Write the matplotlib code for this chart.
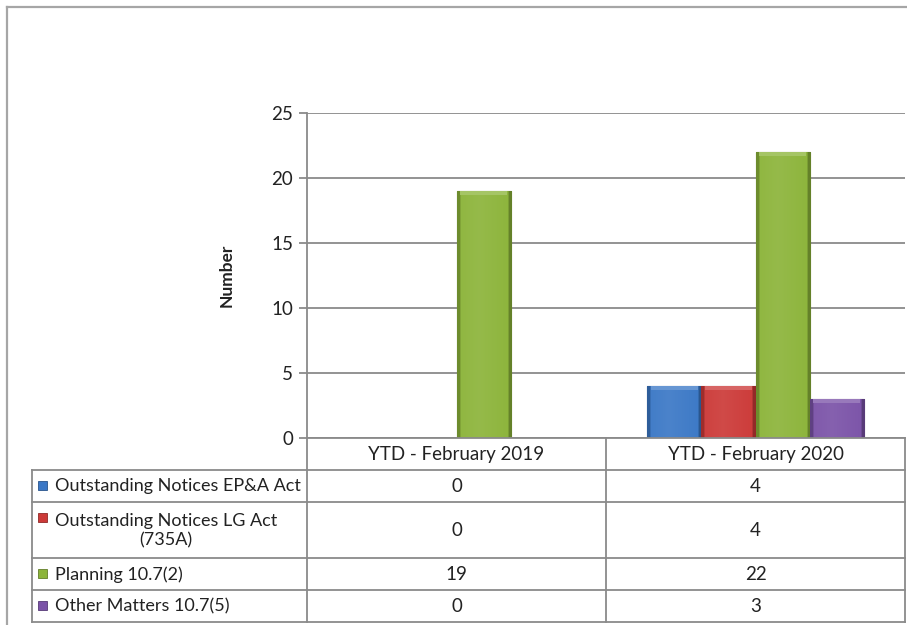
import matplotlib
matplotlib.use("Agg")
import matplotlib.pyplot as plt
import numpy as np
from matplotlib.patches import Rectangle
from matplotlib.colors import to_rgb

# data
periods = ["YTD - February 2019", "YTD - February 2020"]
series = ["Outstanding Notices EP&A Act",
          "Outstanding Notices LG Act\n(735A)",
          "Planning 10.7(2)",
          "Other Matters 10.7(5)"]
values = [[0, 4],
          [0, 4],
          [19, 22],
          [0, 3]]
colors = ["#3b78c6", "#cc3a38", "#8cb43a", "#7b53a8"]
yticks = [0, 5, 10, 15, 20, 25]

plt.rcParams['font.family'] = ['Lato', 'DejaVu Sans']

W, H = 907, 625
grey = "#8a8a8a"
txt = "#222222"
fs = 13


def px(l, t, r, b):
    return [l / W, 1 - b / H, (r - l) / W, (b - t) / H]


def shade(c, f):
    r, g, b = to_rgb(c)
    if f >= 0:
        return (r + (1 - r) * f, g + (1 - g) * f, b + (1 - b) * f)
    return (r * (1 + f), g * (1 + f), b * (1 + f))


def bevel(ax, bar, c):
    # soft bevel: darker side edges, slightly lighter middle, light top band
    x0, y0 = bar.get_x(), bar.get_y()
    w, h = bar.get_width(), bar.get_height()
    if h <= 0:
        return
    t = np.linspace(0, 1, 80)
    prof = 0.08 - 0.12 * np.abs(t - 0.4)
    prof[t < 0.06] = -0.22
    prof[t > 0.94] = -0.28
    img = np.array([shade(c, p) for p in prof])[None, :, :]
    im = ax.imshow(img, extent=(x0, x0 + w, y0, y0 + h), aspect='auto',
                   zorder=3, interpolation='bilinear')
    im.set_clip_path(bar)
    band = min(0.3, h * 0.2)
    ax.add_patch(Rectangle((x0 + w * 0.06, y0 + h - band), w * 0.88, band,
                           color=shade(c, 0.22), zorder=4, lw=0))


fig = plt.figure(figsize=(W / 100, H / 100), dpi=100)

# outer frame (left and top edges)
fig.add_artist(plt.Line2D([7 / W, 7 / W], [0, 1 - 7 / H], color="#a6a6a6", lw=1.6))
fig.add_artist(plt.Line2D([7 / W, 1], [1 - 7 / H, 1 - 7 / H], color="#a6a6a6", lw=1.6))

ax = fig.add_axes(px(307, 113, 905, 438))
ax.set_xlim(-0.5, len(periods) - 0.5)
ax.set_ylim(0, 25)
ax.set_yticks(yticks)
ax.set_xticks([])
ax.yaxis.grid(True, color=grey, lw=1.3)
ax.set_axisbelow(True)
for s in ["top", "right", "bottom"]:
    ax.spines[s].set_visible(False)
ax.spines["left"].set_color(grey)
ax.spines["left"].set_linewidth(1.3)
ax.tick_params(axis='y', length=6, width=1.3, color=grey, labelsize=13.5,
               labelcolor=txt, pad=4)
ax.set_ylabel("Number", fontsize=12.5, fontweight='bold', color=txt, labelpad=26)

bw = 0.181
x = np.arange(len(periods))
for i, (vals, c) in enumerate(zip(values, colors)):
    bars = ax.bar(x + (i - 1.5) * bw, vals, bw, color=c, zorder=2,
                  edgecolor=shade(c, -0.4), lw=0.8)
    for b in bars:
        bevel(ax, b, c)

# data table below the plot
tax = fig.add_axes([0, 0, 1, 1])
tax.set_xlim(0, W)
tax.set_ylim(H, 0)
tax.axis('off')

left, split, right = 32, 307, 905
col_w = (right - split) / len(periods)
top = 438
head_h = 31.5
line_h = 24

rows = [head_h]
for s in series:
    rows.append(32 + line_h * s.count("\n"))
edges = np.concatenate([[top], top + np.cumsum(rows)])
bottom = edges[-1]

lkw = dict(color=grey, lw=1.3)
tax.plot([split, right], [top, top], **lkw)
for e in edges[1:]:
    tax.plot([left, right], [e, e], **lkw)
tax.plot([left, left], [edges[1], bottom], **lkw)
for j in range(len(periods) + 1):
    xx = split + j * col_w
    tax.plot([xx, xx], [top, bottom], **lkw)

for j, p in enumerate(periods):
    tax.text(split + (j + 0.5) * col_w, (edges[0] + edges[1]) / 2 + 1, p,
             ha='center', va='center', fontsize=13.5, color=txt)

for i, (s, c) in enumerate(zip(series, colors)):
    y0, y1 = edges[i + 1], edges[i + 2]
    nl = s.count("\n")
    yc = (y0 + y1) / 2 - nl * line_h / 2
    tax.add_patch(Rectangle((38, yc - 4.5), 9, 9, facecolor=c,
                            edgecolor=shade(c, -0.3), lw=0.6))
    tax.text(55, (y0 + y1) / 2 + 1, s, ha='left', va='center', fontsize=fs,
             color=txt, multialignment='center', linespacing=1.25)
    for j in range(len(periods)):
        tax.text(split + (j + 0.5) * col_w, (y0 + y1) / 2 + 1, str(values[i][j]),
                 ha='center', va='center', fontsize=13.5, color=txt)

fig.savefig("out.png", dpi=100)
